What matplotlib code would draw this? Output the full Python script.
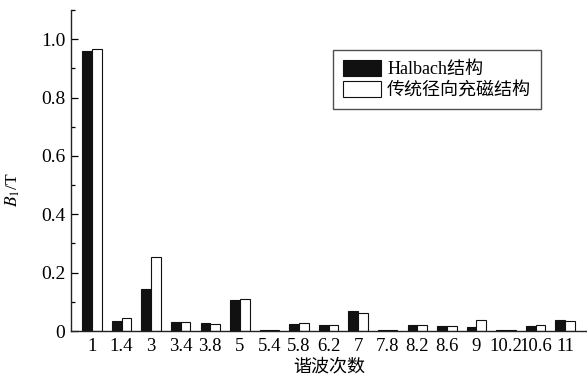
import matplotlib
matplotlib.use("Agg")
import matplotlib.pyplot as plt
import numpy as np
from matplotlib.ticker import FixedLocator

plt.rcParams['font.family'] = ['Liberation Serif', 'Noto Sans CJK SC']
plt.rcParams['mathtext.fontset'] = 'stix'

orders = ['1', '1.4', '3', '3.4', '3.8', '5', '5.4', '5.8', '6.2', '7', '7.8',
          '8.2', '8.6', '9', '10.2', '10.6', '11']
halbach = [0.960, 0.035, 0.145, 0.030, 0.027, 0.105, 0.004, 0.025, 0.022, 0.068,
           0.003, 0.022, 0.018, 0.013, 0.003, 0.018, 0.038]
radial = [0.965, 0.045, 0.255, 0.032, 0.025, 0.110, 0.003, 0.027, 0.020, 0.062,
          0.003, 0.022, 0.016, 0.037, 0.003, 0.020, 0.035]
legend_labels = ['Halbach结构', '传统径向充磁结构']

fig = plt.figure(figsize=(5.87, 3.77), dpi=100)
ax = fig.add_axes([71/587, 1-331/377, 1-71/587, (331-10)/377])

x = np.arange(len(orders))
w = 0.33
ax.bar(x - w/2, halbach, width=w, color='#111111', edgecolor='#111111', linewidth=0.8,
       label=legend_labels[0])
ax.bar(x + w/2, radial, width=w, color='white', edgecolor='#111111', linewidth=0.8,
       label=legend_labels[1])

ax.set_xlim(-0.71, len(orders) - 1 + 0.74)
ax.set_ylim(0, 1.1)
ax.set_xticks(x)
ax.set_xticklabels(orders)
ax.tick_params(axis='x', length=0, labelsize=13.5, pad=5)
ax.set_yticks([0, 0.2, 0.4, 0.6, 0.8, 1.0])
ax.set_yticklabels(['0', '0.2', '0.4', '0.6', '0.8', '1.0'])
ax.yaxis.set_minor_locator(FixedLocator([0.1, 0.3, 0.5, 0.7, 0.9, 1.1]))
ax.tick_params(axis='y', which='major', direction='in', length=5, width=0.9, labelsize=14, pad=4)
ax.tick_params(axis='y', which='minor', direction='in', length=3, width=0.9)

ax.spines['top'].set_visible(False)
ax.spines['right'].set_visible(False)
for s in ['left', 'bottom']:
    ax.spines[s].set_linewidth(1.0)
    ax.spines[s].set_color('#222222')

ax.set_ylabel(r'$B_1$/T', fontsize=12.5)
ax.yaxis.set_label_coords(-0.094, 0.44)
ax.set_xlabel('谐波次数', fontsize=13, labelpad=1.5, family=['Noto Sans CJK SC'])

leg = ax.legend(loc='upper left', bbox_to_anchor=(262/516, 1-40/321), frameon=True,
                fancybox=False, edgecolor='#222222', fontsize=13,
                handlelength=2.1, handleheight=1.0, handletextpad=0.35,
                borderpad=0.55, labelspacing=0.15, borderaxespad=0)
leg.get_frame().set_linewidth(1.0)
for t in leg.get_texts():
    t.set_family(['Liberation Serif', 'Noto Sans CJK SC'])

fig.savefig('out.png', dpi=100)
